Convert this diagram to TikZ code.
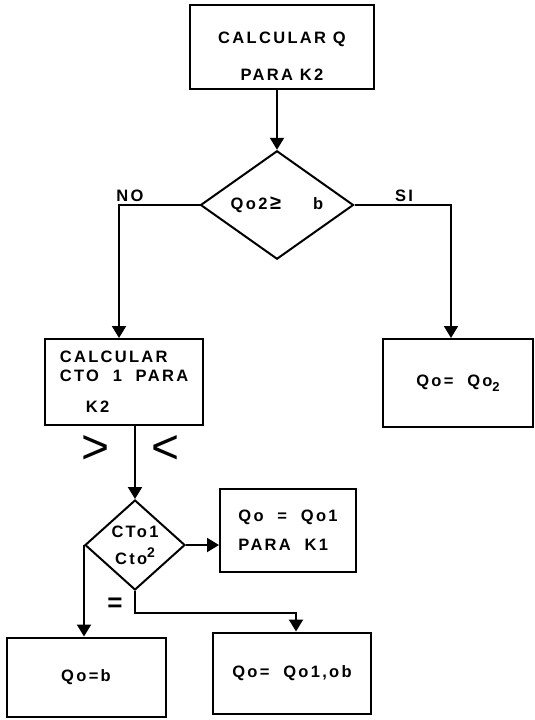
\documentclass[tikz,border=0pt]{standalone}
\usepackage{fontspec}
\setmainfont{Liberation Sans}
\newfontfamily\flowfont[LetterSpace=14]{Liberation Sans}
\usetikzlibrary{shapes.geometric, arrows.meta, positioning}

\tikzset{
  caja/.style={draw, line width=2pt, inner sep=0pt},
  rombo/.style={diamond, draw, line width=2pt, inner sep=0pt},
  flecha/.style={-{Triangle[width=14pt,length=12pt]}, line width=2pt},
  signo/.style={font=\fontsize{48}{48}\selectfont},
}

\begin{document}
\begin{tikzpicture}[x=1pt, y=-1pt, font=\flowfont\bfseries\fontsize{16.5}{19}\selectfont]
    \useasboundingbox (0,0) rectangle (535,720);

    % Upper part
    \node[caja, minimum width=184pt, minimum height=84pt, align=center] (calcq) at (282,47) {\rule{0pt}{30pt}CALCULAR Q\\[18pt]PARA K2};
    \node[rombo, minimum width=153pt, minimum height=90pt] (r1) at (277,205) {Qo2\,{\fontsize{20}{20}\selectfont ≥}\hspace{32pt}b};
    \node[caja, minimum width=158pt, minimum height=86pt, align=left] (calc) at (124,382) {CALCULAR\\CTO\ \ 1\ \ PARA\\[12pt]\hspace{26pt}K2};
    \node[caja, minimum width=150pt, minimum height=88pt] (qo2) at (458,383) {Qo=\ \ Qo\raisebox{-5pt}{\fontsize{13}{13}\selectfont 2}};

    \draw[flecha] (calcq.south -| r1.north) -- (r1.north);
    \draw[flecha] (r1.west) -| ([xshift=-5pt]calc.north);
    \draw[flecha] (r1.east) -| ([xshift=-7pt]qo2.north);
    \node (no) at (130,196) {NO};
    \node (si) at (404,196) {SI};

    % Lower part
    \node[signo] (mayor) at (96,450) {>};
    \node[signo] (menor) at (166,450) {<};
    \node[rombo, minimum width=100pt, minimum height=90pt, align=center] (r2) at (135,545) {CTo1\\[8pt]Cto\raisebox{7pt}{\fontsize{14}{14}\selectfont 2}\hspace{6pt}};
    \node[caja, minimum width=136pt, minimum height=83pt, align=left] (k1) at (288,530) {Qo\ \ =\ \ Qo1\\[10pt]PARA\ \ K1};
    \node[caja, minimum width=159pt, minimum height=79pt] (qob) at (86,677) {Qo=b\hspace{36pt}};
    \node[caja, minimum width=158pt, minimum height=81pt] (qo1ob) at (292,673) {Qo=\ \ Qo1,ob};
    \coordinate (codo) at ([yshift=-22pt]r2.south);

    \draw[flecha] (calc.south -| r2.north) -- (r2.north);
    \draw[flecha] (r2.east) -- (r2.east -| k1.west);
    \draw[flecha] (r2.west) -- (r2.west |- qob.north);
    \draw[flecha] (r2.south) -- (codo) -| ([xshift=4pt]qo1ob.north);
    \node[font=\fontsize{26}{26}\bfseries\selectfont] (igual) at (115,605) {=};
\end{tikzpicture}
\end{document}
